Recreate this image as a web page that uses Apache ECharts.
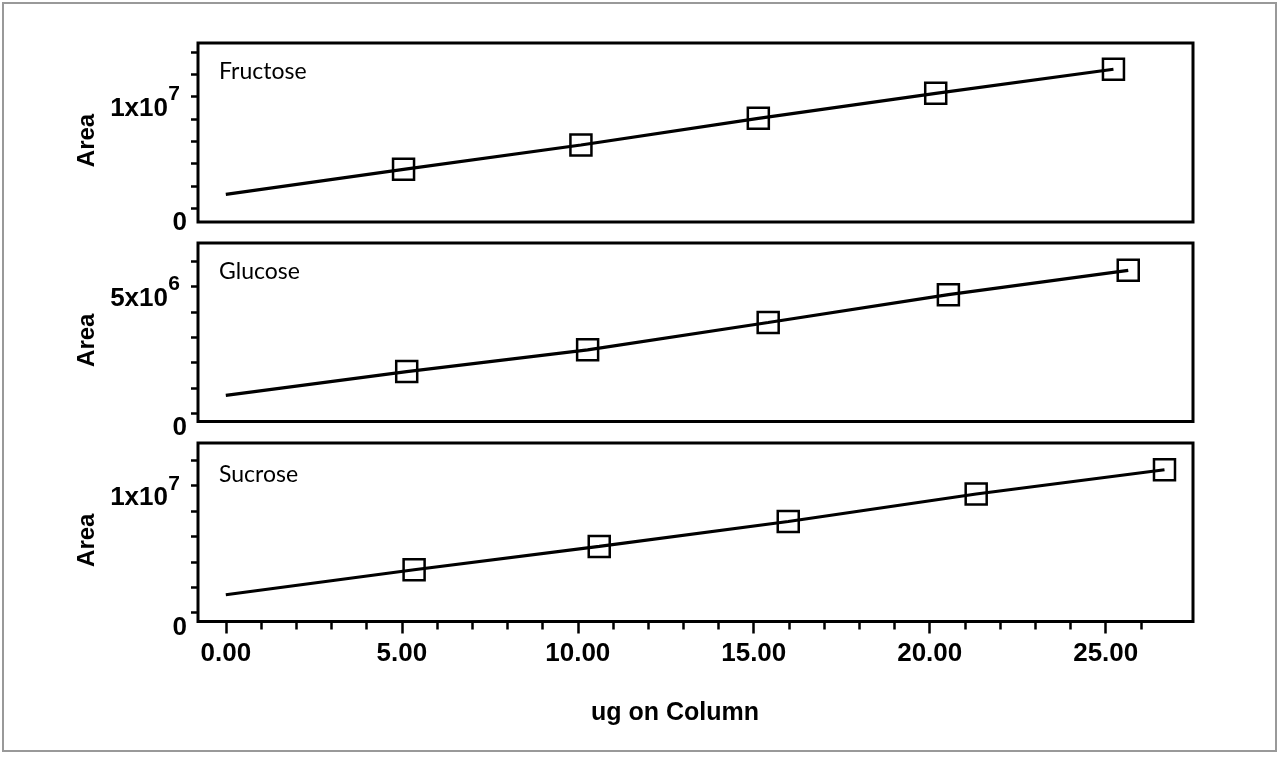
<!DOCTYPE html>
<html>
<head>
<meta charset="utf-8">
<title>ug on Column</title>
<script src="https://cdn.jsdelivr.net/npm/echarts@6.0.0/dist/echarts.min.js"></script>
<style>
  html, body { margin: 0; padding: 0; background: #fff; }
  #main { width: 1280px; height: 757px; }
</style>
</head>
<body>
<div id="main"></div>
<script>
/**************** data ****************/
var panelNames = ['Fructose', 'Glucose', 'Sucrose'];

var ugFructose = [5.05, 10.09, 15.13, 20.17, 25.22];
var areaFructose = [3.49e6, 5.67e6, 8.06e6, 10.30e6, 12.46e6];
var fitStartFructose = 1.25e6;   // fit line at 0 ug

var ugGlucose = [5.14, 10.28, 15.41, 20.53, 25.64];
var areaGlucose = [1.64e6, 2.50e6, 3.58e6, 4.68e6, 5.64e6];
var fitStartGlucose = 0.70e6;

var ugSucrose = [5.35, 10.61, 15.98, 21.32, 26.67];
var areaSucrose = [3.37e6, 5.21e6, 7.18e6, 9.35e6, 11.26e6];
var fitStartSucrose = 1.40e6;

var xMajorTicks = [0, 5, 10, 15, 20, 25];
var xMinorTicks = [1, 2, 3, 4, 6, 7, 8, 9, 11, 12, 13, 14, 16, 17, 18, 19, 21, 22, 23, 24, 26];

var yTicksFructose = [0, 2e6, 4e6, 6e6, 8e6, 10e6, 12e6, 14e6];
var yLabelsFructose = [0, 1e7];
var yTicksGlucose = [0, 1e6, 2e6, 3e6, 4e6, 5e6, 6e6];
var yLabelsGlucose = [0, 5e6];
var yTicksSucrose = [0, 2e6, 4e6, 6e6, 8e6, 10e6, 12e6];
var yLabelsSucrose = [0, 1e7];

var yRanges = [[-1.23e6, 14.81e6], [-0.33e6, 6.72e6], [-0.71e6, 13.37e6]];
var xRange = [-0.79, 27.48];

/**************** helpers ****************/
var sans = 'Liberation Sans';

function pairs(xs, ys) {
  var out = [];
  for (var i = 0; i < xs.length; i++) out.push([xs[i], ys[i]]);
  return out;
}

// 1e7 -> 1x10 with a raised 7
function sciLabel(v) {
  if (v === 0) return '{z|0}';
  var e = Math.floor(Math.log10(v) + 1e-9);
  var m = Math.round(v / Math.pow(10, e));
  return '{s|' + e + '}\n{b|' + m + 'x10}';
}

var tickLine = { color: '#000', width: 2.5 };

function yAxisFor(i, ticks, labels) {
  return {
    type: 'value',
    gridIndex: i,
    min: yRanges[i][0],
    max: yRanges[i][1],
    name: 'Area',
    nameLocation: 'middle',
    nameRotate: 90,
    nameGap: 98,
    nameTextStyle: { fontFamily: sans, fontWeight: 'bold', fontSize: 24, color: '#000',
                     padding: [0, 16, 0, 0] },
    axisLine: { show: false, onZero: false },
    splitLine: { show: false },
    axisTick: { show: true, length: 7, lineStyle: tickLine, customValues: ticks },
    axisLabel: {
      show: true,
      margin: 11,
      padding: [22, 0, 0, 0],
      customValues: labels,
      formatter: sciLabel,
      rich: {
        b: { fontFamily: sans, fontWeight: 'bold', fontSize: 26, lineHeight: 26, color: '#000',
             padding: [0, 19, 0, 0] },
        s: { fontFamily: sans, fontWeight: 'bold', fontSize: 21, lineHeight: 2, color: '#000',
             padding: [0, 7, 0, 0] },
        z: { fontFamily: sans, fontWeight: 'bold', fontSize: 26, lineHeight: 26, color: '#000',
             padding: [8, 0, 0, 0] }
      }
    }
  };
}

function hiddenX(i) {
  return {
    type: 'value', gridIndex: i, min: xRange[0], max: xRange[1],
    axisLine: { show: false, onZero: false }, axisTick: { show: false },
    axisLabel: { show: false }, splitLine: { show: false }
  };
}

function fitSeries(i, start, xs, ys) {
  return {
    type: 'line',
    xAxisIndex: i, yAxisIndex: i,
    data: [[0, start]].concat(pairs(xs, ys)),
    symbol: 'none',
    lineStyle: { color: '#000', width: 3.2 },
    z: 2
  };
}

function pointSeries(i, xs, ys) {
  return {
    type: 'scatter',
    xAxisIndex: i, yAxisIndex: i,
    data: pairs(xs, ys),
    symbol: 'rect',
    symbolSize: 21,
    itemStyle: { color: 'rgba(0,0,0,0)', borderColor: '#000', borderWidth: 2.5, opacity: 1 },
    z: 3
  };
}

var gridBox = { left: 198, width: 995, show: true, borderColor: '#000', borderWidth: 3,
                containLabel: false, outerBoundsMode: 'none' };
var gridTops = [[43, 179], [243, 178.5], [443, 178.5]];
var nameTops = [72, 272, 475];

/**************** chart ****************/
var myChart = echarts.init(document.getElementById('main'));

var option = {
  backgroundColor: '#fff',
  animation: false,
  grid: gridTops.map(function (g) {
    return Object.assign({}, gridBox, { top: g[0], height: g[1] });
  }),
  xAxis: [
    hiddenX(0),
    hiddenX(1),
    {
      type: 'value', gridIndex: 2, min: xRange[0], max: xRange[1], position: 'bottom',
      axisLine: { show: false, onZero: false },
      splitLine: { show: false },
      axisTick: { show: true, length: 12, lineStyle: tickLine, customValues: xMajorTicks },
      axisLabel: {
        show: true, margin: 19, customValues: xMajorTicks,
        fontFamily: sans, fontWeight: 'bold', fontSize: 26, color: '#000',
        formatter: function (v) { return v.toFixed(2); }
      }
    },
    {
      type: 'value', gridIndex: 2, min: xRange[0], max: xRange[1], position: 'bottom',
      axisLine: { show: false, onZero: false },
      splitLine: { show: false },
      axisTick: { show: true, length: 8, lineStyle: tickLine, customValues: xMinorTicks },
      axisLabel: { show: false }
    }
  ],
  yAxis: [
    yAxisFor(0, yTicksFructose, yLabelsFructose),
    yAxisFor(1, yTicksGlucose, yLabelsGlucose),
    yAxisFor(2, yTicksSucrose, yLabelsSucrose)
  ],
  series: [
    fitSeries(0, fitStartFructose, ugFructose, areaFructose),
    pointSeries(0, ugFructose, areaFructose),
    fitSeries(1, fitStartGlucose, ugGlucose, areaGlucose),
    pointSeries(1, ugGlucose, areaGlucose),
    fitSeries(2, fitStartSucrose, ugSucrose, areaSucrose),
    pointSeries(2, ugSucrose, areaSucrose)
  ],
  graphic: [
    {
      type: 'rect', silent: true, z: -1,
      shape: { x: 3, y: 3, width: 1273, height: 748 },
      style: { fill: 'none', stroke: '#999', lineWidth: 2 }
    },
    {
      type: 'text', x: 675, y: 713,
      style: { text: 'ug on Column', fontFamily: sans, fontWeight: 'bold', fontSize: 25,
               fill: '#000', align: 'center', verticalAlign: 'middle' }
    }
  ].concat(panelNames.map(function (n, i) {
    return {
      type: 'text', x: 219, y: nameTops[i],
      style: { text: n, fontFamily: 'Lato', fontSize: 23, fill: '#000',
               align: 'left', verticalAlign: 'middle' }
    };
  }))
};

myChart.setOption(option);
</script>
</body>
</html>
